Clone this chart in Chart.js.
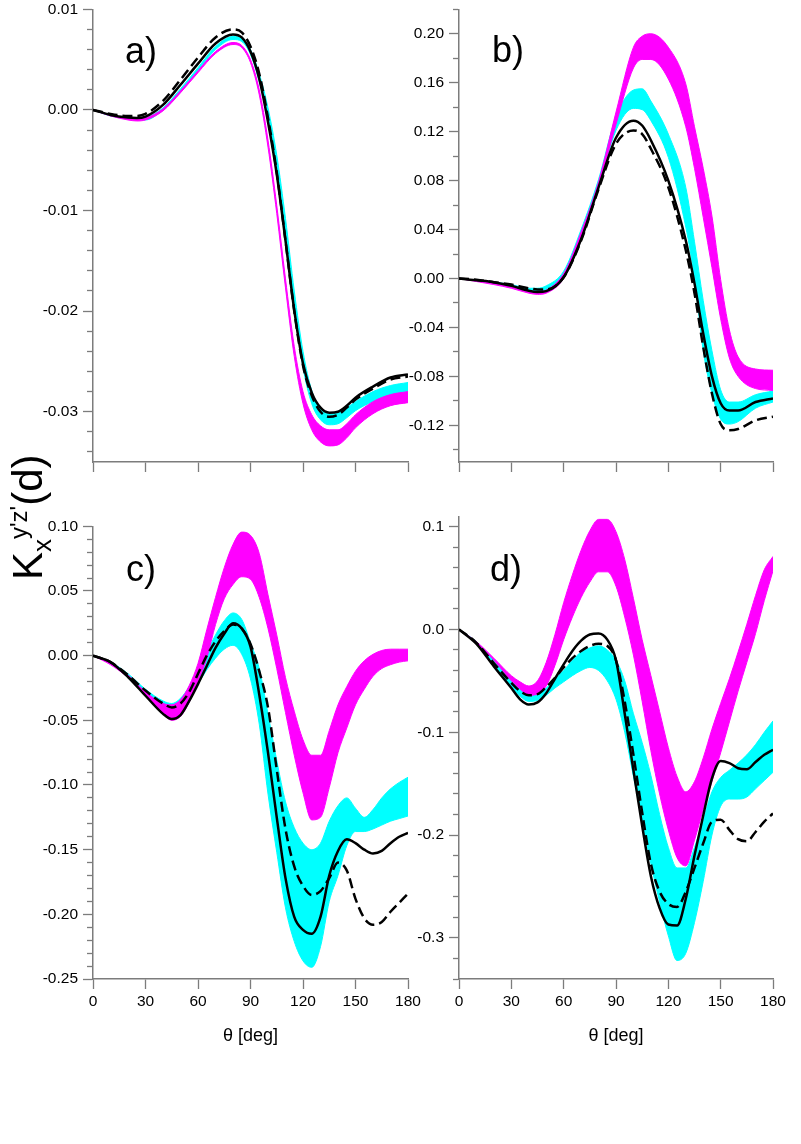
<!DOCTYPE html>
<html>
<head>
<meta charset="utf-8">
<title>K_x^{y'z'}(d) vs theta</title>
<script src="https://cdn.jsdelivr.net/npm/chart.js@4.4.1/dist/chart.umd.min.js"></script>
<style>
  html, body { margin: 0; padding: 0; background: #ffffff; }
  body { position: relative; width: 801px; height: 1144px; overflow: hidden;
         font-family: "Liberation Sans", Arial, Helvetica, sans-serif; color: #000; }
  canvas { position: absolute; }
  .tag { position: absolute; font-size: 36px; line-height: 36px; white-space: nowrap; }
  #ytitle { position: absolute; left: 7px; top: 580px; transform-origin: 0 0; transform: rotate(-90deg);
            font-size: 42px; line-height: 42px; white-space: nowrap; }
  #ytitle .sub { position: relative; top: 9px; font-size: 26px; }
  #ytitle .sup { position: relative; top: -15px; font-size: 24px; }
</style>
</head>
<body>
<canvas id="panel-a" width="405" height="497" style="left:23px;top:-5px"></canvas>
<canvas id="panel-b" width="404" height="497" style="left:389px;top:-5px"></canvas>
<canvas id="panel-c" width="405" height="535" style="left:23px;top:512px"></canvas>
<canvas id="panel-d" width="404" height="545" style="left:389px;top:502px"></canvas>
<div class="tag" style="left:125px;top:33px">a)</div>
<div class="tag" style="left:492px;top:32px">b)</div>
<div class="tag" style="left:126px;top:551px">c)</div>
<div class="tag" style="left:490px;top:551px">d)</div>
<div id="ytitle">K<span class="sub">x</span><span class="sup">y'z'</span>(d)</div>

<script>
// x axis (theta in degrees)
const xTickLabels = [0, 30, 60, 90, 120, 150, 180];

// panel a)
const thetaA = [0,10,20,25,30,40,50,60,70,80,85,90,95,100,105,110,115,120,125,130,135,140,145,150,160,170,180];
const magentaUpA = [0,-0.0005,-0.0008,-0.0009,-0.0008,0.0001,0.0019,0.0039,0.0058,0.0067,0.0064,0.0050,0.0020,-0.0030,-0.0095,-0.0168,-0.0235,-0.0280,-0.0303,-0.0314,-0.0318,-0.0318,-0.0312,-0.0303,-0.0290,-0.0283,-0.0280];
const magentaLowA = [0,-0.0006,-0.0010,-0.0011,-0.0010,-0.0001,0.0017,0.0037,0.0056,0.0065,0.0062,0.0047,0.0015,-0.0037,-0.0103,-0.0177,-0.0245,-0.0292,-0.0318,-0.0330,-0.0334,-0.0333,-0.0326,-0.0316,-0.0302,-0.0294,-0.0291];
const cyanUpA = [0,-0.0005,-0.0008,-0.0009,-0.0008,0.0002,0.0021,0.0042,0.0063,0.0073,0.0071,0.0060,0.0036,0.0002,-0.0045,-0.0108,-0.0180,-0.0240,-0.0279,-0.0297,-0.0302,-0.0301,-0.0296,-0.0290,-0.0280,-0.0274,-0.0271];
const cyanLowA = [0,-0.0006,-0.0009,-0.0010,-0.0010,0.0000,0.0018,0.0039,0.0060,0.0070,0.0068,0.0055,0.0028,-0.0008,-0.0058,-0.0124,-0.0196,-0.0256,-0.0292,-0.0308,-0.0313,-0.0312,-0.0306,-0.0299,-0.0290,-0.0285,-0.0283];
const solidA = [0,-0.0005,-0.00076,-0.0008,-0.00066,0.0005,0.0025,0.0046,0.0066,0.0075,0.0072,0.0058,0.0031,-0.0012,-0.0064,-0.0130,-0.0199,-0.0252,-0.0281,-0.0296,-0.0301,-0.0300,-0.0294,-0.0286,-0.0275,-0.0266,-0.0263];
const dashedA = [0,-0.0004,-0.0006,-0.0006,-0.0004,0.0009,0.0030,0.0052,0.0072,0.0080,0.0077,0.0063,0.0036,-0.0008,-0.0062,-0.0130,-0.0200,-0.0254,-0.0284,-0.0300,-0.0305,-0.0303,-0.0296,-0.0288,-0.0277,-0.0268,-0.0265];
const yLabelsA = [0.01, 0.00, -0.01, -0.02, -0.03];

// panel b)
const thetaB = [0,10,20,30,40,45,50,60,70,80,90,100,105,110,120,130,135,140,145,150,155,160,170,180];
const magentaUpB = [0,-0.002,-0.004,-0.007,-0.010,-0.011,-0.0095,0.004,0.038,0.079,0.136,0.189,0.198,0.200,0.189,0.159,0.124,0.090,0.051,-0.001,-0.042,-0.064,-0.074,-0.075];
const magentaLowB = [0,-0.0025,-0.005,-0.008,-0.012,-0.013,-0.012,0.000,0.032,0.0745,0.126,0.172,0.179,0.179,0.163,0.124,0.090,0.050,0.009,-0.033,-0.065,-0.080,-0.090,-0.0915];
const cyanUpB = [0,-0.0015,-0.003,-0.005,-0.008,-0.008,-0.006,0.006,0.040,0.081,0.132,0.154,0.155,0.145,0.118,0.0745,0.030,-0.018,-0.059,-0.091,-0.101,-0.101,-0.095,-0.092];
const cyanLowB = [0,-0.002,-0.004,-0.006,-0.010,-0.011,-0.0095,0.002,0.033,0.075,0.121,0.139,0.138,0.129,0.099,0.042,0.000,-0.059,-0.094,-0.115,-0.119,-0.117,-0.106,-0.101];
const solidB = [0,-0.0015,-0.003,-0.006,-0.010,-0.011,-0.0103,0.001,0.032,0.0745,0.115,0.129,0.125,0.113,0.080,0.031,-0.004,-0.045,-0.080,-0.102,-0.108,-0.108,-0.101,-0.098];
const dashedB = [0,-0.001,-0.003,-0.005,-0.008,-0.009,-0.009,0.001,0.031,0.073,0.110,0.121,0.118,0.106,0.0745,0.023,-0.012,-0.056,-0.094,-0.119,-0.124,-0.123,-0.116,-0.113];
const yLabelsB = [0.20, 0.16, 0.12, 0.08, 0.04, 0.00, -0.04, -0.08, -0.12];

// panel c)
const thetaC = [0,10,20,30,40,45,50,55,60,65,70,75,80,85,90,95,100,105,110,115,120,125,130,135,140,145,150,155,160,165,170,175,180];
const magentaUpC = [0,-0.006,-0.015,-0.028,-0.037,-0.038,-0.034,-0.023,-0.006,0.020,0.045,0.068,0.086,0.0955,0.093,0.079,0.047,0.016,-0.017,-0.043,-0.065,-0.077,-0.077,-0.058,-0.038,-0.024,-0.012,-0.004,0.001,0.004,0.005,0.005,0.005];
const magentaLowC = [0,-0.007,-0.017,-0.031,-0.045,-0.050,-0.047,-0.036,-0.020,-0.002,0.024,0.044,0.055,0.061,0.059,0.045,0.021,-0.010,-0.044,-0.077,-0.106,-0.127,-0.125,-0.102,-0.075,-0.056,-0.038,-0.026,-0.016,-0.010,-0.007,-0.005,-0.004];
const cyanUpC = [0,-0.005,-0.014,-0.026,-0.035,-0.037,-0.033,-0.024,-0.012,0.002,0.016,0.027,0.033,0.028,0.010,-0.010,-0.045,-0.081,-0.113,-0.133,-0.145,-0.150,-0.145,-0.128,-0.116,-0.110,-0.118,-0.125,-0.119,-0.110,-0.103,-0.098,-0.094];
const cyanLowC = [0,-0.006,-0.016,-0.030,-0.041,-0.043,-0.040,-0.032,-0.022,-0.011,-0.002,0.005,0.008,0.001,-0.018,-0.053,-0.107,-0.152,-0.195,-0.221,-0.236,-0.241,-0.225,-0.190,-0.170,-0.147,-0.136,-0.136,-0.134,-0.131,-0.128,-0.126,-0.124];
const solidC = [0,-0.005,-0.0165,-0.031,-0.045,-0.049,-0.046,-0.035,-0.022,-0.008,0.006,0.017,0.025,0.021,0.007,-0.030,-0.075,-0.125,-0.172,-0.202,-0.212,-0.215,-0.202,-0.170,-0.151,-0.142,-0.145,-0.150,-0.153,-0.151,-0.145,-0.140,-0.137];
const dashedC = [0,-0.005,-0.015,-0.027,-0.037,-0.040,-0.037,-0.028,-0.014,0.000,0.011,0.019,0.024,0.021,0.009,-0.012,-0.040,-0.088,-0.134,-0.163,-0.178,-0.185,-0.182,-0.172,-0.160,-0.166,-0.188,-0.203,-0.208,-0.206,-0.198,-0.191,-0.184];
const yLabelsC = [0.10, 0.05, 0.00, -0.05, -0.10, -0.15, -0.20, -0.25];

// panel d)
const thetaD = [0,10,20,30,35,40,45,50,55,60,65,70,75,80,85,90,95,100,105,110,115,120,125,130,135,140,145,150,155,160,165,170,175,180];
const magentaUpD = [0,-0.012,-0.028,-0.045,-0.051,-0.055,-0.050,-0.032,-0.005,0.026,0.053,0.077,0.096,0.107,0.107,0.095,0.068,0.030,-0.010,-0.045,-0.080,-0.115,-0.143,-0.158,-0.148,-0.125,-0.097,-0.072,-0.048,-0.022,0.005,0.033,0.058,0.071];
const magentaLowD = [0,-0.013,-0.030,-0.050,-0.058,-0.064,-0.063,-0.055,-0.035,-0.010,0.012,0.031,0.046,0.056,0.056,0.042,0.012,-0.025,-0.070,-0.118,-0.160,-0.195,-0.222,-0.230,-0.205,-0.175,-0.148,-0.120,-0.090,-0.060,-0.032,-0.004,0.028,0.057];
const cyanUpD = [0,-0.012,-0.030,-0.050,-0.057,-0.062,-0.062,-0.057,-0.048,-0.040,-0.030,-0.022,-0.018,-0.016,-0.020,-0.030,-0.050,-0.082,-0.110,-0.142,-0.180,-0.212,-0.232,-0.232,-0.212,-0.185,-0.158,-0.144,-0.137,-0.130,-0.122,-0.112,-0.100,-0.089];
const cyanLowD = [0,-0.013,-0.034,-0.056,-0.065,-0.070,-0.069,-0.064,-0.057,-0.051,-0.045,-0.040,-0.037,-0.040,-0.050,-0.068,-0.100,-0.143,-0.185,-0.228,-0.265,-0.298,-0.322,-0.315,-0.285,-0.245,-0.200,-0.172,-0.165,-0.165,-0.163,-0.155,-0.147,-0.139];
const solidD = [0,-0.014,-0.036,-0.057,-0.068,-0.073,-0.071,-0.062,-0.048,-0.034,-0.021,-0.011,-0.005,-0.004,-0.010,-0.030,-0.082,-0.137,-0.191,-0.240,-0.271,-0.287,-0.288,-0.262,-0.220,-0.181,-0.145,-0.128,-0.130,-0.135,-0.136,-0.129,-0.122,-0.117];
const dashedD = [0,-0.013,-0.033,-0.052,-0.060,-0.064,-0.063,-0.056,-0.047,-0.037,-0.028,-0.021,-0.016,-0.014,-0.016,-0.030,-0.070,-0.122,-0.178,-0.228,-0.255,-0.267,-0.270,-0.255,-0.232,-0.208,-0.187,-0.185,-0.195,-0.204,-0.206,-0.197,-0.187,-0.179];
const yLabelsD = [0.1, 0.0, -0.1, -0.2, -0.3];

const MAGENTA = '#ff00ff';
const CYAN = '#00ffff';
const AXIS_GRAY = '#7c7c7c';
const FONT = { family: '"Liberation Sans", Arial, sans-serif', size: 15.5 };

// every multiple of the minor step between lo and hi
function tickList(lo, hi, step) {
  const out = [];
  for (let k = Math.ceil(lo / step - 1e-6); k <= Math.floor(hi / step + 1e-6); k++) {
    out.push(Math.round(k * step * 1e6) / 1e6);
  }
  return out;
}

function drawPanel(id, theta, s, ax) {
  const pts = ys => ys.map((y, i) => ({ x: theta[i], y: y }));
  const isLabel = v => ax.labels.some(l => Math.abs(l - v) < 1e-7);
  const yTicks = tickList(ax.tickLo, ax.tickHi, ax.minor);

  return new Chart(document.getElementById(id), {
    type: 'line',
    data: {
      datasets: [
        { data: pts(s.solid), borderColor: '#000', borderWidth: 2.5, fill: false },
        { data: pts(s.dashed), borderColor: '#000', borderWidth: 2.5, borderDash: [10, 5], fill: false },
        { data: pts(s.magUp), borderColor: MAGENTA, borderWidth: 1, fill: false },
        { data: pts(s.magLow), borderColor: MAGENTA, borderWidth: 1, backgroundColor: MAGENTA, fill: '-1' },
        { data: pts(s.cyanUp), borderColor: CYAN, borderWidth: 1, fill: false },
        { data: pts(s.cyanLow), borderColor: CYAN, borderWidth: 1, backgroundColor: CYAN, fill: '-1' }
      ]
    },
    options: {
      responsive: false,
      animation: false,
      events: [],
      layout: { padding: { top: 12, right: 20, bottom: 0, left: 0 } },
      elements: {
        point: { radius: 0 },
        line: { cubicInterpolationMode: 'monotone' }
      },
      plugins: { legend: { display: false }, tooltip: { enabled: false } },
      scales: {
        x: {
          type: 'linear', min: 0, max: 180,
          afterBuildTicks: sc => { sc.ticks = xTickLabels.map(v => ({ value: v })); },
          afterFit: sc => { sc.height = ax.xHeight; },
          border: { display: true, color: AXIS_GRAY, width: 1.5 },
          grid: { drawOnChartArea: false, tickLength: 10, tickColor: AXIS_GRAY, tickWidth: 1.3 },
          ticks: {
            autoSkip: false, maxRotation: 0, padding: 3, color: '#000', font: FONT,
            callback: v => ax.xLabels ? String(v) : ''
          },
          title: {
            display: ax.xLabels, text: 'θ [deg]', color: '#000',
            font: { family: FONT.family, size: 18 }, padding: { top: 0, bottom: 0 }
          }
        },
        y: {
          type: 'linear', min: ax.min, max: ax.max,
          afterBuildTicks: sc => { sc.ticks = yTicks.map(v => ({ value: v })); },
          afterFit: sc => { sc.width = 70; },
          border: { display: true, color: AXIS_GRAY, width: 1.5 },
          grid: {
            drawOnChartArea: false, tickLength: 10, tickColor: AXIS_GRAY, tickWidth: 1.3,
            // minor ticks: only the 6px next to the axis
            tickBorderDash: c => isLabel(c.tick.value) ? [] : [6, 4],
            tickBorderDashOffset: c => isLabel(c.tick.value) ? 0 : 6
          },
          ticks: {
            autoSkip: false, padding: 5, color: '#000', font: FONT,
            callback: v => isLabel(v) ? v.toFixed(ax.decimals) : ''
          }
        }
      }
    }
  });
}

drawPanel('panel-a', thetaA,
  { solid: solidA, dashed: dashedA, magUp: magentaUpA, magLow: magentaLowA, cyanUp: cyanUpA, cyanLow: cyanLowA },
  { min: -0.035, max: 0.01, tickLo: -0.035, tickHi: 0.01, minor: 0.002, labels: yLabelsA, decimals: 2, xLabels: false, xHeight: 30 });

drawPanel('panel-b', thetaB,
  { solid: solidB, dashed: dashedB, magUp: magentaUpB, magLow: magentaLowB, cyanUp: cyanUpB, cyanLow: cyanLowB },
  { min: -0.15, max: 0.22, tickLo: -0.15, tickHi: 0.22, minor: 0.02, labels: yLabelsB, decimals: 2, xLabels: false, xHeight: 30 });

drawPanel('panel-c', thetaC,
  { solid: solidC, dashed: dashedC, magUp: magentaUpC, magLow: magentaLowC, cyanUp: cyanUpC, cyanLow: cyanLowC },
  { min: -0.25, max: 0.10, tickLo: -0.25, tickHi: 0.10, minor: 0.01, labels: yLabelsC, decimals: 2, xLabels: true, xHeight: 68 });

drawPanel('panel-d', thetaD,
  { solid: solidD, dashed: dashedD, magUp: magentaUpD, magLow: magentaLowD, cyanUp: cyanUpD, cyanLow: cyanLowD },
  { min: -0.34, max: 0.11, tickLo: -0.34, tickHi: 0.10, minor: 0.02, labels: yLabelsD, decimals: 1, xLabels: true, xHeight: 68 });
</script>
</body>
</html>
